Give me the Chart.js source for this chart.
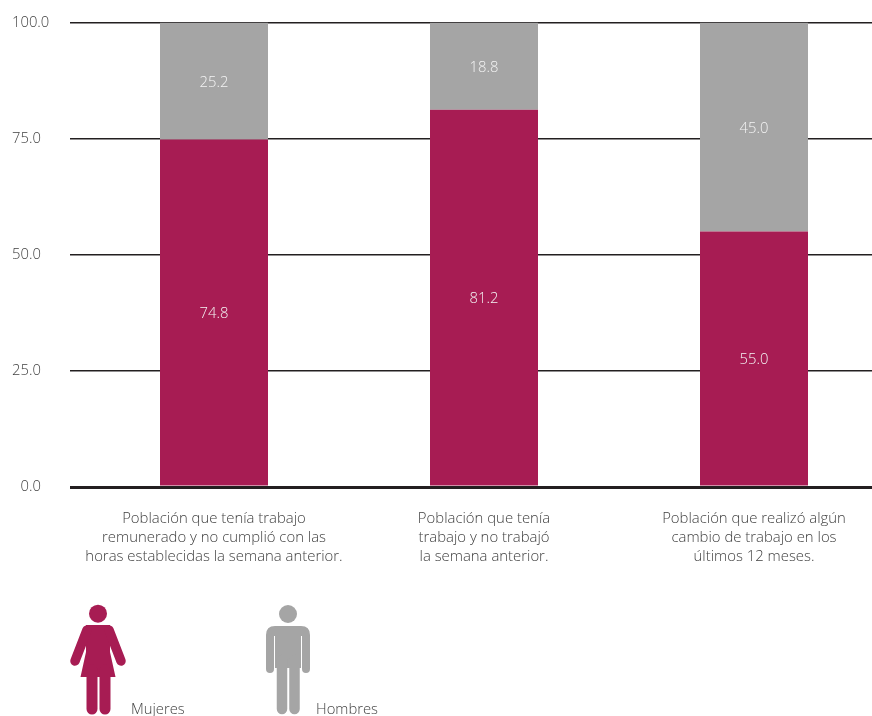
<!DOCTYPE html>
<html lang="es">
<head>
<meta charset="utf-8">
<title>Mujeres y hombres</title>
<script src="https://cdn.jsdelivr.net/npm/chart.js@4/dist/chart.umd.min.js"></script>
<style>
    html, body { margin: 0; padding: 0; background: #fff; overflow: hidden; }
    #stage { position: relative; width: 872px; height: 716px; overflow: hidden; }
    #chart-box { position: absolute; left: 0; top: 0; width: 900px; height: 716px; }
    #icons { position: absolute; left: 0; top: 0; }
    .legend-label { position: absolute; font: 300 14.8px "Open Sans", sans-serif; color: #3f3f3f; line-height: 18px; }
</style>
</head>
<body>
<div id="stage">
    <div id="chart-box"><canvas id="chart"></canvas></div>
    <svg id="icons" width="872" height="716">
        <!-- Mujeres -->
        <g fill="#A71C53" stroke="none">
            <circle cx="98" cy="613.7" r="9"/>
            <path d="M86 625H110L110 652L115.500 677H80.500L86 652Z"/>
            <path d="M87 630L75 661M109 630L121 661" stroke="#A71C53" stroke-width="9.5" stroke-linecap="round" fill="none"/>
            <path d="M92 670V709M105 670V709" stroke="#A71C53" stroke-width="11" stroke-linecap="round" fill="none"/>
        </g>
        <!-- Hombres -->
        <g fill="#A5A5A5" stroke="none">
            <circle cx="288" cy="614" r="9"/>
            <path d="M275 626H301Q310 626 310 635V669A4 4 0 0 1 302 669V636H301V668H275V636H274V669A4 4 0 0 1 266 669V635Q266 626 275 626Z"/>
            <path d="M282 660V709M294.500 660V709" stroke="#A5A5A5" stroke-width="10.500" stroke-linecap="round" fill="none"/>
        </g>
    </svg>
    <div class="legend-label" style="left:131px;top:699px">Mujeres</div>
    <div class="legend-label" style="left:316px;top:699px">Hombres</div>
</div>
<script>
    // Chart data
    const categories = [
        ['Población que tenía trabajo', 'remunerado y no cumplió con las', 'horas establecidas la semana anterior.'],
        ['Población que tenía', 'trabajo y no trabajó', 'la semana anterior.'],
        ['Población que realizó algún', 'cambio de trabajo en los', 'últimos 12 meses.']
    ];
    const mujeres = [74.8, 81.2, 55.0];
    const hombres = [25.2, 18.8, 45.0];
    const yTicks = [0, 25, 50, 75, 100];

    const colors = {
        maroon: '#A71C53',
        gray: '#A5A5A5',
        line: '#231F20',
        text: '#3f3f3f'
    };
    const fontFamily = '"Open Sans", sans-serif';

    // Value labels in the middle of each bar segment
    const barLabels = {
        id: 'barLabels',
        afterDatasetsDraw(chart) {
            const ctx = chart.ctx;
            ctx.save();
            ctx.fillStyle = '#f4f4f4';
            ctx.font = '300 14.8px ' + fontFamily;
            ctx.textAlign = 'center';
            ctx.textBaseline = 'middle';
            chart.data.datasets.forEach(function(dataset, i) {
                chart.getDatasetMeta(i).data.forEach(function(bar, j) {
                    const mid = bar.getCenterPoint();
                    ctx.fillText(dataset.data[j].toFixed(1), mid.x, mid.y + 1.5);
                });
            });
            ctx.restore();
        }
    };

    new Chart(document.getElementById('chart'), {
        type: 'bar',
        data: {
            labels: categories,
            datasets: [
                { label: 'Mujeres', data: mujeres, backgroundColor: colors.maroon },
                { label: 'Hombres', data: hombres, backgroundColor: colors.gray }
            ]
        },
        plugins: [barLabels],
        options: {
            responsive: true,
            maintainAspectRatio: false,
            animation: false,
            categoryPercentage: 1,
            barPercentage: 0.4,
            layout: { padding: { left: 12, right: 11, top: 22.5, bottom: 0 } },
            plugins: {
                legend: { display: false },
                tooltip: { enabled: false }
            },
            scales: {
                x: {
                    stacked: true,
                    grid: { display: false },
                    border: { display: false },
                    afterFit: function(scale) { scale.height = 229; },
                    ticks: {
                        color: colors.text,
                        font: { family: fontFamily, size: 14.9, weight: '300', lineHeight: 1.275 },
                        padding: 14,
                        maxRotation: 0,
                        autoSkip: false
                    }
                },
                y: {
                    stacked: true,
                    min: 0,
                    max: 100,
                    afterBuildTicks: function(scale) {
                        scale.ticks = yTicks.map(function(v) { return { value: v }; });
                    },
                    afterFit: function(scale) { scale.width = 67; },
                    border: { display: false },
                    grid: {
                        color: colors.line,
                        tickColor: colors.line,
                        tickLength: 9,
                        lineWidth: function(ctx) { return ctx.tick && ctx.tick.value === 0 ? 3 : 1.5; }
                    },
                    ticks: {
                        color: colors.text,
                        crossAlign: 'far',
                        font: { family: fontFamily, size: 14.8, weight: '300' },
                        // figure space keeps 0.0 lined up with the other tick labels
                        callback: function(value) { return (value === 0 ? '\u2007' : '') + value.toFixed(1); }
                    }
                }
            }
        }
    });
</script>
</body>
</html>
